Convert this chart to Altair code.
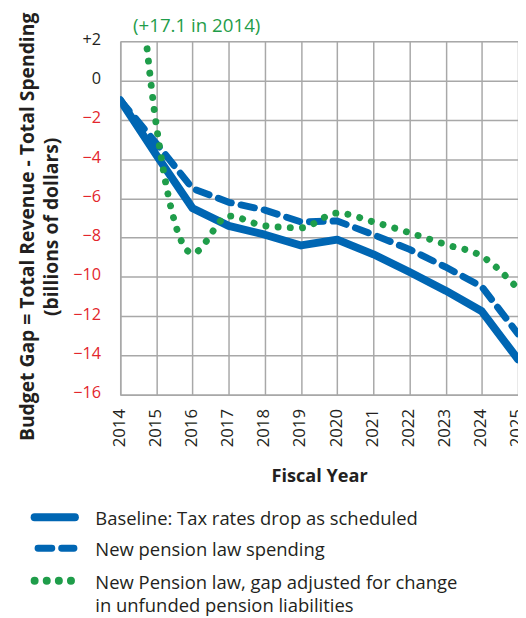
import altair as alt
import pandas as pd

# ---- data ----
years = list(range(2014, 2026))
baseline = [-1.0, -3.8, -6.5, -7.4, -7.85, -8.4, -8.1, -8.85, -9.75, -10.7, -11.75, -14.2]
pension = [-1.0, -3.2, -5.5, -6.2, -6.6, -7.2, -7.15, -7.85, -8.6, -9.5, -10.5, -12.9]
adjusted = [17.1, -2.3, -8.8, -6.9, -7.4, -7.5, -6.75, -7.2, -7.75, -8.35, -8.95, -10.6]
series_names = [
    "Baseline: Tax rates drop as scheduled",
    "New pension law spending",
    "New Pension law, gap adjusted for change in unfunded pension liabilities",
]
legend_lines = [
    ["Baseline: Tax rates drop as scheduled"],
    ["New pension law spending"],
    ["New Pension law, gap adjusted for change", "in unfunded pension liabilities"],
]
y_ticks = list(range(-16, 3, 2))
annotation = "(+17.1 in 2014)"
y_title = ["Budget Gap = Total Revenue - Total Spending", "(billions of dollars)"]
x_title = "Fiscal Year"

BLUE = "#0066b3"
GREEN = "#1f9d4a"
RED = "#e3262c"
DARK = "#231f20"
GRID = "#a8a8a8"
FONT = "Open Sans"

rows = []
for name, vals in zip(series_names, [baseline, pension, adjusted]):
    for yr, v in zip(years, vals):
        rows.append({"year": yr, "value": v, "series": name})
df = pd.DataFrame(rows)

x_enc = alt.X(
    "year:Q",
    scale=alt.Scale(domain=[2014, 2025], nice=False, zero=False),
    axis=alt.Axis(
        values=years, format="d", labelAngle=270, ticks=False, labelPadding=14,
        labelOffset=-1,
        labelOverlap=False, labelFontSize=17, labelColor=DARK, labelFont=FONT,
        grid=True, gridColor=GRID, gridWidth=1.5,
        domainColor=GRID, domainWidth=1.5,
        title=x_title, titleFontSize=18.4, titleFontWeight="bold", titleColor=DARK,
        titleFont=FONT, titlePadding=20, titleLimit=1000,
    ),
)
y_enc = alt.Y(
    "value:Q",
    scale=alt.Scale(domain=[-16, 2], nice=False, zero=False),
    axis=alt.Axis(
        values=y_ticks, ticks=False, labelPadding=20, labelOffset=-2,
        labelExpr="datum.value > 0 ? '+' + datum.label : datum.label",
        labelColor={"condition": {"test": "datum.value < 0", "value": RED}, "value": DARK},
        labelFontSize=16.5, labelFont=FONT,
        grid=True, gridColor=GRID, gridWidth=1.5,
        domainColor=GRID, domainWidth=1.5,
        title=y_title, titleFontSize=19.6, titleFontWeight="bold", titleColor=DARK,
        titleFont=FONT, titlePadding=11, titleLineHeight=25, titleY=188, titleLimit=1000,
    ),
)

base = alt.Chart(df).encode(x=x_enc, y=y_enc)

line_solid = base.transform_filter(alt.datum.series == series_names[0]).mark_line(
    color=BLUE, strokeWidth=8, strokeCap="round", strokeJoin="round", clip=True
)
line_dash = base.transform_filter(alt.datum.series == series_names[1]).mark_line(
    color=BLUE, strokeWidth=7, strokeDash=[14, 10], strokeCap="round", strokeJoin="round", clip=True
)
line_dot = base.transform_filter(alt.datum.series == series_names[2]).mark_line(
    color=GREEN, strokeWidth=7, strokeDash=[0.1, 12.3], strokeCap="round",
    interpolate="monotone", clip=True
)

ann = alt.Chart(pd.DataFrame({"year": [years[0]], "label": [annotation]})).mark_text(
    align="left", baseline="middle", dx=13, fontSize=19, font=FONT, color=GREEN
).encode(x=x_enc, y=alt.value(-15), text="label:N")

# ---- legend ----
sym_y = [483.5, 515, 548]
text_y = [[485], [517], [550, 574]]
sym_styles = [
    dict(color=BLUE, strokeWidth=8, strokeCap="round"),
    dict(color=BLUE, strokeWidth=7, strokeCap="round", strokeDash=[14, 10]),
    dict(color=GREEN, strokeWidth=8, strokeCap="round", strokeDash=[0.1, 12.2]),
]
sym_x = [(-87, -46), (-83.5, -47), (-87, -50)]
legend_layers = []
for i, name in enumerate(series_names):
    legend_layers.append(
        alt.Chart(pd.DataFrame({"series": [name]})).mark_rule(**sym_styles[i]).encode(
            x=alt.value(sym_x[i][0]), x2=alt.value(sym_x[i][1]), y=alt.value(sym_y[i])
        )
    )
    for line, ty in zip(legend_lines[i], text_y[i]):
        legend_layers.append(
            alt.Chart(pd.DataFrame({"label": [line]})).mark_text(
                align="left", baseline="middle", fontSize=18.7, font=FONT, color=DARK
            ).encode(x=alt.value(-25.3), y=alt.value(ty), text="label:N")
        )

chart = alt.layer(line_solid, line_dash, line_dot, ann, *legend_layers).properties(
    width=404, height=359,
    autosize=alt.AutoSizeParams(type="none"),
    padding={"left": 114, "top": 29, "right": 0, "bottom": 222},
).configure_view(stroke=None).configure(font=FONT)

chart.save("out.html", embed_options={"renderer": "svg", "actions": False})
